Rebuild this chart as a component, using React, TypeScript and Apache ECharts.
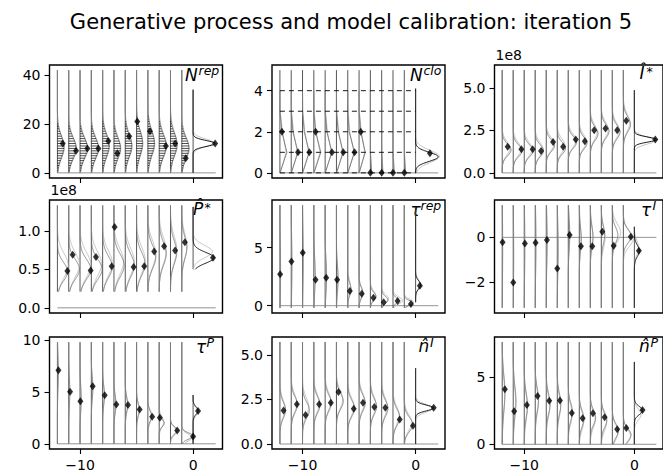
import React, { useEffect, useRef } from "react";
import * as echarts from "echarts";

// ---------------- data ----------------
const titleText = "Generative process and model calibration: iteration 5";
const steps = [-12, -11, -10, -9, -8, -7, -6, -5, -4, -3, -2, -1, 0];
const xTicks = [-10, 0];

// each density: [centre, spread, peak width in x units]; index 12 = final (black) density at step 0
// Panel 1: N^rep (discrete)
const nRepObs = [12, 9, 10, 10, 13, 8, 15, 21, 17, 11, 12, 6, 12];
const nRepDotDx = [0.47, 0.65, 0.65, 0.62, 0.5, 0.3, 0.35, 0.06, 0.18, 0.59, 0.41, 0.35, 1.95];
const nRepDens = [[10.5, 4.5, 0.6], [10, 4.2, 0.68], [10, 4.2, 0.68], [10, 4.2, 0.65], [11, 4.5, 0.6], [10, 4.2, 0.6], [11, 4.5, 0.6], [12, 5, 0.55], [12, 5, 0.6], [11, 4.5, 0.65], [11.5, 4.5, 0.6], [10, 4.2, 0.65], [12, 1.2, 1.95]];
const nRepDens2 = [[11, 4.5, 0.55], [10.5, 4.5, 0.6], [10.5, 4.5, 0.6], [10.5, 4.5, 0.6], [11.5, 4.8, 0.55], [10.5, 4.5, 0.55], [11.5, 4.8, 0.55], [12.5, 5, 0.5], [12.5, 5, 0.55], [11.5, 4.8, 0.6], [12, 5, 0.55], [10.5, 4.5, 0.6], [12.3, 1.6, 1.8]];
const nRepTicks = [0, 20, 40];

// Panel 2: N^clo (discrete, probabilities at 0,1,2,3)
const nCloObs = [2, 1, 1, 2, 1, 1, 1, 2, 0, 0, 0, 0, 0.95];
const nCloDotDx = [0.18, 0.6, 0.6, 0.15, 0.6, 0.6, 0.6, 0.15, 0, 0, 0, 0, 1.27];
const nCloPmf = [[0, 0.62, 0.18, 0], [0, 0.6, 0.15, 0], [0, 0.6, 0.15, 0], [0, 0.62, 0.15, 0], [0, 0.6, 0.15, 0], [0, 0.6, 0.15, 0], [0, 0.6, 0.12, 0], [0, 0.55, 0.15, 0], [0.1, 0, 0, 0], [0.1, 0, 0, 0], [0.1, 0, 0, 0], [0.1, 0, 0, 0]];
const nCloPmf2 = [[0.03, 0.55, 0.22, 0.03], [0.03, 0.55, 0.2, 0.03], [0.03, 0.55, 0.2, 0.03], [0.03, 0.55, 0.2, 0.03], [0.03, 0.55, 0.2, 0.03], [0.03, 0.55, 0.2, 0.03], [0.03, 0.55, 0.18, 0.03], [0.03, 0.5, 0.2, 0.03], [0.12, 0.02, 0, 0], [0.12, 0.02, 0, 0], [0.12, 0.02, 0, 0], [0.12, 0.02, 0, 0]];
const nCloFinal = [0.78, 0.22, 2.0];
const nCloFinal2 = [0.8, 0.3, 2.1];
const nCloLevels = [0, 1, 2, 3, 4];
const nCloTicks = [0, 2, 4];

// Panel 3: I-hat* (units of 1e8)
const iStarObs = [1.53, 1.39, 1.39, 1.28, 1.82, 1.53, 1.96, 1.86, 2.51, 2.61, 2.51, 3.06, 1.96];
const iStarDotDx = [0.5, 0.74, 0.77, 0.53, 0.62, 0.53, 0.68, 0.5, 0.35, 0.38, 0.44, 0.27, 1.9];
const iStarDens = [[1.35, 0.35, 0.8], [1.3, 0.35, 0.8], [1.3, 0.35, 0.8], [1.3, 0.35, 0.75], [1.6, 0.35, 0.75], [1.45, 0.35, 0.75], [1.8, 0.35, 0.75], [1.75, 0.35, 0.7], [2.3, 0.4, 0.7], [2.45, 0.4, 0.7], [2.4, 0.4, 0.7], [2.85, 0.45, 0.65], [1.96, 0.15, 2.0]];
const iStarDens2 = [[1.45, 0.4, 0.7], [1.4, 0.4, 0.72], [1.4, 0.4, 0.72], [1.4, 0.4, 0.7], [1.7, 0.4, 0.7], [1.6, 0.4, 0.7], [1.9, 0.4, 0.68], [1.85, 0.4, 0.65], [2.4, 0.45, 0.62], [2.55, 0.45, 0.62], [2.5, 0.45, 0.62], [2.95, 0.5, 0.58], [1.9, 0.22, 1.85]];
const iStarTicks = [0, 2.5, 5];

// Panel 4: P-hat* (units of 1e8)
const pStarObs = [0.477, 0.69, 0.485, 0.66, 0.54, 1.05, 0.53, 0.54, 0.73, 0.8, 0.745, 0.85, 0.65];
const pStarDotDx = [0.88, 0.35, 0.94, 0.41, 0.8, 0.06, 0.74, 0.68, 0.56, 0.44, 0.41, 0.27, 1.76];
const pStarDens = [[0.47, 0.12, 0.9], [0.5, 0.13, 0.95], [0.5, 0.13, 0.95], [0.5, 0.13, 0.95], [0.53, 0.14, 0.85], [0.55, 0.15, 0.9], [0.55, 0.15, 0.8], [0.57, 0.15, 0.75], [0.66, 0.15, 0.7], [0.7, 0.15, 0.62], [0.72, 0.15, 0.55], [0.78, 0.14, 0.45], [0.65, 0.07, 1.85]];
const pStarDens2 = [[0.55, 0.16, 0.95], [0.56, 0.16, 0.95], [0.56, 0.16, 0.95], [0.57, 0.16, 0.9], [0.58, 0.16, 0.85], [0.6, 0.17, 0.85], [0.6, 0.17, 0.8], [0.62, 0.17, 0.75], [0.7, 0.17, 0.7], [0.74, 0.17, 0.62], [0.76, 0.17, 0.55], [0.8, 0.16, 0.45], [0.73, 0.08, 1.7]];
const pStarTicks = [0, 0.5, 1.0];

// Panel 5: tau^rep
const tauRepObs = [2.7, 3.8, 4.57, 2.24, 2.41, 2.24, 1.27, 1.03, 0.69, 0.29, 0.4, 0.15, 1.72];
const tauRepDotDx = [0.02, 0.02, 0.02, 0.15, 0.09, 0.06, 0.18, 0.24, 0.27, 0.18, 0.41, 0.59, 0.38];
const tauRepDens = [[3, 2.2, 0.06], [3.5, 2.2, 0.06], [4, 2.2, 0.06], [2.6, 1.5, 0.12], [2.5, 1.3, 0.13], [2.3, 1.1, 0.15], [1.4, 0.5, 0.3], [1.1, 0.45, 0.35], [0.8, 0.35, 0.5], [0.5, 0.3, 0.55], [0.45, 0.25, 0.45], [0.25, 0.2, 0.75], [1.8, 0.35, 0.45]];
const tauRepDens2 = [[3.2, 2.4, 0.05], [3.6, 2.4, 0.05], [4, 2.4, 0.05], [2.8, 1.6, 0.1], [2.7, 1.4, 0.11], [2.5, 1.2, 0.12], [1.6, 0.6, 0.25], [1.2, 0.5, 0.3], [0.9, 0.4, 0.45], [0.6, 0.35, 0.6], [0.45, 0.3, 0.85], [0.3, 0.25, 0.8], [1.85, 0.4, 0.4]];
const tauRepTicks = [0, 5];

// Panel 6: tau^I
const tauIObs = [-0.22, -2.0, -0.27, -0.24, -0.12, -1.38, 0.1, -0.4, -0.4, 0.25, -0.37, 0.03, -0.6];
const tauIDotDx = [0.03, 0, 0.06, 0.03, 0.06, 0, 0.12, 0.15, 0.18, 0.09, 0.12, 0.68, 0.41];
const tauIDens = [[-0.5, 1.5, 0.04], [-0.8, 1.5, 0.04], [-0.4, 1.3, 0.05], [-0.3, 1.2, 0.06], [-0.2, 1.0, 0.08], [-0.5, 1.0, 0.08], [0.1, 0.6, 0.14], [-0.1, 0.5, 0.18], [0.0, 0.45, 0.25], [0.1, 0.4, 0.3], [0.1, 0.35, 0.5], [0.05, 0.3, 0.7], [-0.6, 0.25, 0.45]];
const tauIDens2 = [[-0.4, 1.6, 0.03], [-1.0, 1.6, 0.03], [-0.3, 1.4, 0.04], [-0.3, 1.3, 0.05], [-0.1, 1.1, 0.06], [-0.6, 1.1, 0.06], [0.2, 0.7, 0.12], [0.0, 0.6, 0.16], [0.1, 0.5, 0.22], [0.0, 0.45, 0.35], [0.2, 0.4, 0.75], [-0.05, 0.35, 0.9], [-0.45, 0.3, 0.4]];
const tauITicks = [-2, 0];

// Panel 7: tau^P
const tauPObs = [7.1, 5.03, 4.1, 5.55, 4.68, 3.8, 3.74, 3.32, 2.61, 2.51, 1.29, 0.71, 3.16];
const tauPDotDx = [0.09, 0.12, 0.03, 0.12, 0.18, 0.21, 0.24, 0.27, 0.38, 0.06, 0.59, 1.0, 0.44];
const tauPDens = [[7, 1.5, 0.08], [5, 1.3, 0.1], [4.3, 1.2, 0.1], [5.4, 1.0, 0.14], [4.7, 0.9, 0.16], [3.8, 0.8, 0.18], [3.8, 0.7, 0.22], [3.3, 0.6, 0.25], [2.7, 0.5, 0.35], [2.0, 0.35, 0.45], [1.3, 0.35, 0.6], [0.75, 0.3, 1.0], [3.2, 0.35, 0.45]];
const tauPDens2 = [[6.8, 1.6, 0.07], [5.2, 1.4, 0.08], [4.4, 1.3, 0.09], [5.3, 1.1, 0.12], [4.6, 1.0, 0.14], [3.9, 0.9, 0.16], [3.7, 0.8, 0.19], [3.2, 0.7, 0.22], [2.6, 0.6, 0.3], [2.1, 0.5, 0.4], [1.2, 0.4, 0.55], [0.6, 0.35, 0.9], [3.1, 0.4, 0.4]];
const tauPTicks = [0, 5, 10];

// Panel 8: n-hat^I
const nIObs = [1.88, 2.23, 1.62, 2.23, 2.32, 2.92, 1.97, 2.32, 2.08, 2.03, 1.38, 1.02, 2.03];
const nIDotDx = [0.32, 0.5, 0.27, 0.47, 0.5, 0.18, 0.53, 0.35, 0.35, 0.32, 0.59, 0.77, 1.6];
const nIDens = [[1.9, 0.45, 0.5], [2.2, 0.45, 0.55], [1.9, 0.45, 0.6], [2.2, 0.45, 0.55], [2.3, 0.45, 0.55], [2.4, 0.45, 0.6], [2.0, 0.45, 0.6], [2.3, 0.45, 0.55], [2.1, 0.45, 0.55], [2.0, 0.45, 0.55], [1.5, 0.45, 0.6], [1.1, 0.4, 0.75], [2.02, 0.16, 1.6]];
const nIDens2 = [[2.0, 0.5, 0.45], [2.3, 0.5, 0.5], [2.1, 0.5, 0.55], [2.3, 0.5, 0.5], [2.4, 0.5, 0.5], [2.5, 0.5, 0.55], [2.1, 0.5, 0.55], [2.4, 0.5, 0.5], [2.2, 0.5, 0.5], [2.1, 0.5, 0.5], [1.6, 0.5, 0.55], [1.2, 0.45, 0.65], [2.0, 0.22, 1.5]];
const nITicks = [0, 2.5, 5];

// Panel 9: n-hat^P
const nPObs = [4.07, 2.44, 2.91, 3.58, 3.23, 3.25, 2.32, 1.93, 2.3, 2.0, 1.11, 1.21, 2.54];
const nPDotDx = [0.24, 0.09, 0.24, 0.21, 0.27, 0.24, 0.32, 0.3, 0.24, 0.3, 0.44, 0.27, 0.74];
const nPDens = [[3.8, 1.3, 0.25], [3.2, 1.1, 0.25], [2.9, 0.9, 0.3], [3.3, 0.85, 0.3], [3.0, 0.75, 0.35], [3.0, 0.75, 0.33], [2.4, 0.65, 0.38], [1.9, 0.6, 0.42], [2.0, 0.55, 0.48], [1.8, 0.55, 0.5], [1.0, 0.5, 0.55], [0.7, 0.45, 0.7], [2.5, 0.3, 0.75]];
const nPDens2 = [[3.6, 1.4, 0.22], [3.0, 1.2, 0.22], [2.7, 1.0, 0.27], [3.1, 0.9, 0.28], [2.8, 0.8, 0.32], [2.8, 0.8, 0.3], [2.2, 0.7, 0.35], [1.7, 0.65, 0.4], [1.8, 0.6, 0.45], [1.6, 0.6, 0.48], [0.9, 0.55, 0.52], [0.6, 0.5, 0.65], [2.2, 0.4, 0.6]];
const nPTicks = [0, 5];

// ---------------- layout ----------------
const FONT = "DejaVu Sans";
const XMIN = -12.7;
const XMAX = 2.6;
const COLS = [49.5, 272, 494.5];
const ROWS = [65, 200, 337];
const HEIGHTS = [113, 113, 112];
const W = 173;

type Panel = {
  obs: number[]; dx: number[]; dens: number[][]; dens2: number[][];
  ticks: number[]; dec: number; ymin: number; ymax: number;
  lo: number; hi: number; flo: number; fhi: number;
  main: string; sup: string; mx: number; sx: number; mainTop: number; supTop: number;
  offset?: string; hatch?: boolean; pmf?: number[][]; pmf2?: number[][];
};

const panels: Panel[] = [
  { obs: nRepObs, dx: nRepDotDx, dens: nRepDens, dens2: nRepDens2, ticks: nRepTicks, dec: 0, ymin: -2.1, ymax: 44.1, lo: 0, hi: 42, flo: 0, fhi: 34, main: "N", sup: "rep", mx: 135.5, sx: 149, mainTop: 1, supTop: -1, hatch: true },
  { obs: nCloObs, dx: nCloDotDx, dens: [...nCloPmf.map(() => [0, 1, 0]), nCloFinal], dens2: [...nCloPmf2.map(() => [0, 1, 0]), nCloFinal2], ticks: nCloTicks, dec: 0, ymin: -0.25, ymax: 5.25, lo: 0, hi: 5, flo: 0, fhi: 4.1, main: "N", sup: "clo", mx: 138, sx: 151.5, mainTop: 1, supTop: -1, pmf: nCloPmf, pmf2: nCloPmf2 },
  { obs: iStarObs, dx: iStarDotDx, dens: iStarDens, dens2: iStarDens2, ticks: iStarTicks, dec: 1, ymin: -0.3, ymax: 6.34, lo: 0, hi: 6.04, flo: 0, fhi: 4.86, main: "\u00CE", sup: "*", mx: 145, sx: 152, mainTop: -1, supTop: 0, offset: "1e8" },
  { obs: pStarObs, dx: pStarDotDx, dens: pStarDens, dens2: pStarDens2, ticks: pStarTicks, dec: 1, ymin: -0.067, ymax: 1.4, lo: 0.21, hi: 1.33, flo: 0.5, fhi: 1.31, main: "P\u0302", sup: "*", mx: 143.5, sx: 155, mainTop: 0, supTop: 1, offset: "1e8" },
  { obs: tauRepObs, dx: tauRepDotDx, dens: tauRepDens, dens2: tauRepDens2, ticks: tauRepTicks, dec: 0, ymin: -0.63, ymax: 9.11, lo: -0.19, hi: 8.67, flo: 0.3, fhi: 8.5, main: "\u03C4", sup: "rep", mx: 138.5, sx: 148.5, mainTop: 1, supTop: -1 },
  { obs: tauIObs, dx: tauIDotDx, dens: tauIDens, dens2: tauIDens2, ticks: tauITicks, dec: 0, ymin: -3.36, ymax: 1.66, lo: -3.13, hi: 1.43, flo: -3.13, fhi: 0.47, main: "\u03C4", sup: "I", mx: 146.5, sx: 158, mainTop: 1, supTop: -1 },
  { obs: tauPObs, dx: tauPDotDx, dens: tauPDens, dens2: tauPDens2, ticks: tauPTicks, dec: 0, ymin: -0.5, ymax: 10.3, lo: 0, hi: 9.8, flo: 0, fhi: 4.7, main: "\u03C4", sup: "P", mx: 146.5, sx: 157, mainTop: 1, supTop: -1 },
  { obs: nIObs, dx: nIDotDx, dens: nIDens, dens2: nIDens2, ticks: nITicks, dec: 1, ymin: -0.28, ymax: 6.0, lo: 0, hi: 5.72, flo: 0, fhi: 4.25, main: "n\u0302", sup: "I", mx: 146.5, sx: 158, mainTop: 0, supTop: -1 },
  { obs: nPObs, dx: nPDotDx, dens: nPDens, dens2: nPDens2, ticks: nPTicks, dec: 0, ymin: -0.35, ymax: 7.95, lo: 0, hi: 7.57, flo: 0, fhi: 6.1, main: "n\u0302", sup: "P", mx: 144.5, sx: 156, mainTop: 0, supTop: -1 },
];

function densityCurve(k: number, d: number[], lo: number, hi: number): number[][] {
  const pts: number[][] = [];
  const n = 160;
  for (let s = 0; s <= n; s++) {
    const y = lo + ((hi - lo) * s) / n;
    pts.push([k + d[2] * Math.exp(-0.5 * ((y - d[0]) / d[1]) ** 2), y]);
  }
  return pts;
}

function pmfCurve(k: number, p: number[]): number[][] {
  return [...p.map((v, i) => [k + v, i]), [k, p.length]];
}

function polySeries(i: number, lines: number[][][], color: string, width: number, z: number, dash?: number[]) {
  return {
    type: "custom",
    coordinateSystem: "cartesian2d",
    xAxisIndex: i,
    yAxisIndex: i,
    silent: true,
    z,
    data: lines.map((l, idx) => [l[0][0], l[0][1], idx]),
    encode: { x: 0, y: 1 },
    renderItem: (params: any, api: any) => {
      const pts = lines[params.dataIndex].map((p) => api.coord(p));
      return {
        type: "polyline",
        shape: { points: pts },
        style: { stroke: color, lineWidth: width, fill: "none", lineDash: dash },
      };
    },
  };
}

const fmt = (dec: number) => (v: number) => v.toFixed(dec).replace("-", "\u2212");

function buildOption() {
  const grid: any[] = [];
  const xAxis: any[] = [];
  const yAxis: any[] = [];
  const series: any[] = [];
  const graphic: any[] = [];

  graphic.push({
    type: "text", x: 351, y: 22,
    style: { text: titleText, fontFamily: FONT, fontSize: 21, fill: "#000", align: "center", verticalAlign: "middle" },
  });

  panels.forEach((p, i) => {
    const row = Math.floor(i / 3);
    const col = i % 3;
    const left = COLS[col];
    const top = ROWS[row];
    grid.push({
      left, top, width: W, height: HEIGHTS[row], show: true,
      borderColor: "#000", borderWidth: 1.4, backgroundColor: "rgba(0,0,0,0)", containLabel: false,
    });
    xAxis.push({
      gridIndex: i, type: "value", min: XMIN, max: XMAX,
      axisLine: { show: false, onZero: false }, splitLine: { show: false },
      axisTick: { show: true, length: 5, customValues: xTicks, lineStyle: { color: "#000", width: 1.1 } },
      axisLabel: { show: row === 2, customValues: xTicks, formatter: fmt(0), fontSize: 14, fontFamily: FONT, color: "#000", margin: 9 },
    });
    yAxis.push({
      gridIndex: i, type: "value", min: p.ymin, max: p.ymax,
      axisLine: { show: false, onZero: false }, splitLine: { show: false },
      axisTick: { show: true, length: 5, customValues: p.ticks, lineStyle: { color: "#000", width: 1.1 } },
      axisLabel: { show: true, customValues: p.ticks, formatter: fmt(p.dec), fontSize: 14, fontFamily: FONT, color: "#000", margin: 9 },
    });

    // vertical step lines
    const verts = steps.map((k, j) => (j < 12 ? [[k, p.lo], [k, p.hi]] : [[k, p.flo], [k, p.fhi]]));
    series.push(polySeries(i, verts, "#444", 0.9, 2));

    // baseline at 0
    series.push(polySeries(i, [[[steps[0], 0], [2, 0]]], "#888", 0.9, 1));

    const light: number[][][] = [];
    const dark: number[][][] = [];
    steps.forEach((k, j) => {
      const lo = j < 12 ? p.lo : p.flo;
      const hi = j < 12 ? p.hi : p.fhi;
      if (j < 12 && p.pmf && p.pmf2) {
        light.push(pmfCurve(k, p.pmf2[j]));
        dark.push(pmfCurve(k, p.pmf[j]));
      } else {
        light.push(densityCurve(k, p.dens2[j], lo, hi));
        if (j < 12) dark.push(densityCurve(k, p.dens[j], lo, hi));
      }
    });
    series.push(polySeries(i, light, "#b4b4b4", 0.8, 3));
    series.push(polySeries(i, dark, "#6e6e6e", 0.8, 4));
    series.push(polySeries(i, [densityCurve(0, p.dens[12], p.flo, p.fhi)], "#000", 0.9, 5));

    if (p.hatch) {
      const hl: number[][][] = [];
      steps.slice(0, 12).forEach((k, j) => {
        for (let y = 0; y <= 30; y++) {
          const w = p.dens[j][2] * Math.exp(-0.5 * ((y - p.dens[j][0]) / p.dens[j][1]) ** 2);
          if (w > 0.04) hl.push([[k, y], [k + w, y]]);
        }
      });
      series.push(polySeries(i, hl, "#000", 0.7, 4));
    }
    if (p.pmf) {
      series.push(polySeries(i, nCloLevels.map((lv) => [[steps[0], lv], [0, lv]]), "#000", 0.9, 4, [5, 4]));
    }

    series.push({
      type: "scatter", xAxisIndex: i, yAxisIndex: i, silent: true, z: 10,
      symbol: "diamond", symbolSize: [6, 8],
      itemStyle: { color: "#000" },
      data: steps.map((k, j) => [k + p.dx[j], p.obs[j]]),
    });

    // panel label
    graphic.push({
      type: "text", x: left + p.mx, y: top + p.mainTop,
      style: { text: p.main, fontFamily: FONT, fontStyle: "italic", fontSize: 17, fill: "#000", align: "left", verticalAlign: "top" },
    });
    graphic.push({
      type: "text", x: left + p.sx, y: top + p.supTop,
      style: { text: p.sup, fontFamily: FONT, fontStyle: "italic", fontSize: 12.5, fill: "#000", align: "left", verticalAlign: "top" },
    });
    if (p.offset) {
      graphic.push({
        type: "text", x: left + 1, y: top - 3,
        style: { text: p.offset, fontFamily: FONT, fontSize: 14, fill: "#000", align: "left", verticalAlign: "bottom" },
      });
    }
  });

  return { animation: false, backgroundColor: "#fff", grid, xAxis, yAxis, series, graphic };
}

export default function App() {
  const ref = useRef<HTMLDivElement>(null);
  useEffect(() => {
    if (!ref.current) return;
    const chart = echarts.init(ref.current, null, { renderer: "svg" });
    chart.setOption(buildOption() as any);
    return () => chart.dispose();
  }, []);
  return <div ref={ref} style={{ position: "fixed", left: 0, top: 0, width: 663, height: 475 }} />;
}
